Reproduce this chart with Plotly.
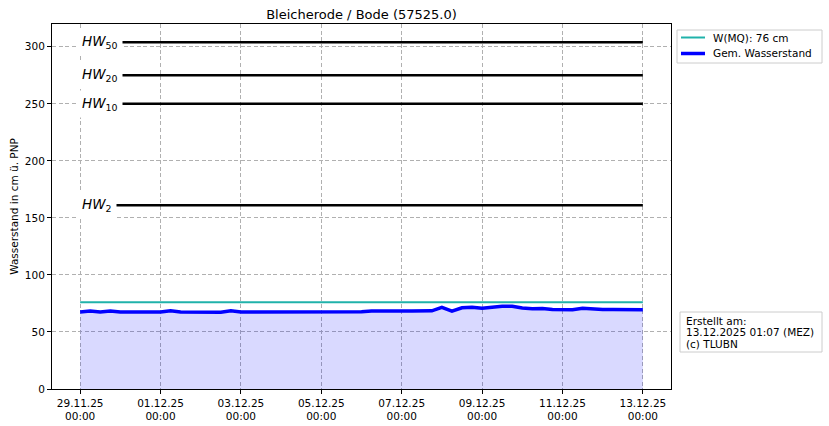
import plotly.graph_objects as go
import pandas as pd

title = "Bleicherode / Bode (57525.0)"
start = "2025-11-29 00:00"
end = "2025-12-13 00:00"

# water level, 6-hourly from 29.11.25 00:00 to 13.12.25 00:00
level = [
    67.5, 68.4, 67.6, 68.3,
    67.5, 67.6, 68.2, 67.6,
    67.5, 68.6, 67.6, 67.5,
    67.5, 68.0, 67.2, 68.5,
    67.6, 67.5, 67.5, 67.5,
    68.0, 67.5, 67.5, 67.6,
    67.5, 68.0, 67.6, 68.1,
    67.8, 68.3, 68.1, 68.0,
    68.3, 68.4, 68.5, 68.5,
    71.5, 68.2, 71.2, 71.6,
    70.8, 72.0, 72.6, 72.5,
    71.0, 70.3, 70.5, 69.6,
    69.8, 69.4, 70.8, 69.9,
    69.7, 69.6, 69.7, 69.6,
    69.5,
]
times = pd.date_range(start, periods=len(level), freq="6h")

mq_value = 76
hw_names = ["50", "20", "10", "2"]
hw_values = [304, 275, 250, 161]
legend_labels = [f"W(MQ): {mq_value} cm", "Gem. Wasserstand"]
info_lines = ["Erstellt am:", "13.12.2025 01:07 (MEZ)", "(c) TLUBN"]

W, H = 829, 426
ML, MR, MT, MB = 52, 158, 24, 37
PW, PH = W - ML - MR, H - MT - MB


def px(x):
    return (x - ML) / PW


def py(y):
    return (H - MB - y) / PH


FONT = "DejaVu Sans"
fig = go.Figure()

fig.add_trace(go.Scatter(
    x=times, y=level, mode="lines", fill="tozeroy",
    fillcolor="rgba(0,0,255,0.15)", line=dict(color="rgba(0,0,0,0)", width=0),
    showlegend=False, hoverinfo="skip"))

for name, v in zip(hw_names, hw_values):
    fig.add_trace(go.Scatter(x=[start, end], y=[v, v], mode="lines",
                             line=dict(color="black", width=2.5), showlegend=False))
    fig.add_annotation(x=start, y=v, xref="x", yref="y", text=f"<i>HW</i><sub>{name}</sub>",
                       showarrow=False, xanchor="left", yanchor="middle", xshift=-3,
                       bgcolor="white", borderpad=4,
                       font=dict(family=FONT, size=13.5, color="black"))

fig.add_trace(go.Scatter(x=[start, end], y=[mq_value, mq_value], mode="lines",
                         line=dict(color="#20b2aa", width=2), showlegend=False))
fig.add_trace(go.Scatter(x=times, y=level, mode="lines",
                         line=dict(color="blue", width=3.5), showlegend=False))

# legend box (drawn manually to match compact matplotlib legend)
shapes = [dict(type="rect", xref="paper", yref="paper",
               x0=px(677), x1=px(822), y0=py(63), y1=py(30),
               line=dict(color="#cccccc", width=1), fillcolor="white", layer="above")]
for i, (lab, col, wd) in enumerate(zip(legend_labels, ["#20b2aa", "blue"], [2, 3.5])):
    yy = 37.5 + i * 16
    shapes.append(dict(type="line", xref="paper", yref="paper",
                       x0=px(681), x1=px(705), y0=py(yy), y1=py(yy),
                       line=dict(color=col, width=wd), layer="above"))
    fig.add_annotation(x=px(711), y=py(yy), xref="paper", yref="paper", text=lab,
                       showarrow=False, xanchor="left", yanchor="middle",
                       font=dict(family=FONT, size=10.5, color="black"))

# info box
shapes.append(dict(type="rect", xref="paper", yref="paper",
                   x0=px(680), x1=px(822), y0=py(352), y1=py(312),
                   line=dict(color="#cccccc", width=1), fillcolor="white", layer="above"))
for i, t in enumerate(info_lines):
    fig.add_annotation(x=px(684), y=py(320.5 + i * 11.7), xref="paper", yref="paper", text=t,
                       showarrow=False, xanchor="left", yanchor="middle",
                       font=dict(family=FONT, size=10.5, color="black"))

axis_common = dict(showline=True, linecolor="black", linewidth=1, mirror=True,
                   ticks="outside", ticklen=4, tickcolor="black",
                   showgrid=True, gridcolor="#b0b0b0", griddash="4px,2.5px", gridwidth=1,
                   zeroline=False, automargin=False,
                   tickfont=dict(family=FONT, size=10.5, color="black"))

fig.update_xaxes(**axis_common, type="date",
                 range=["2025-11-28 07:12", "2025-12-13 16:48"],
                 tick0=start, dtick=2 * 86400000,
                 tickformat="%d.%m.%y<br>%H:%M")
fig.update_yaxes(**axis_common, range=[0, 320], tickvals=[0, 50, 100, 150, 200, 250, 300],
                 title=dict(text="Wasserstand in cm ü. PNP",
                            font=dict(family=FONT, size=10.5, color="black"),
                            standoff=4))

fig.update_layout(
    width=W, height=H,
    margin=dict(l=ML, r=MR, t=MT, b=MB, autoexpand=False),
    paper_bgcolor="white", plot_bgcolor="white",
    shapes=shapes,
    title=dict(text=title, x=0.5, xref="paper", y=1, yref="paper", yanchor="bottom",
               pad=dict(b=5), font=dict(family=FONT, size=13, color="black")),
    showlegend=False,
)

fig.write_html("out.html", config={"displayModeBar": False},
               post_script="document.body.style.margin='0';document.body.style.overflow='hidden';")
